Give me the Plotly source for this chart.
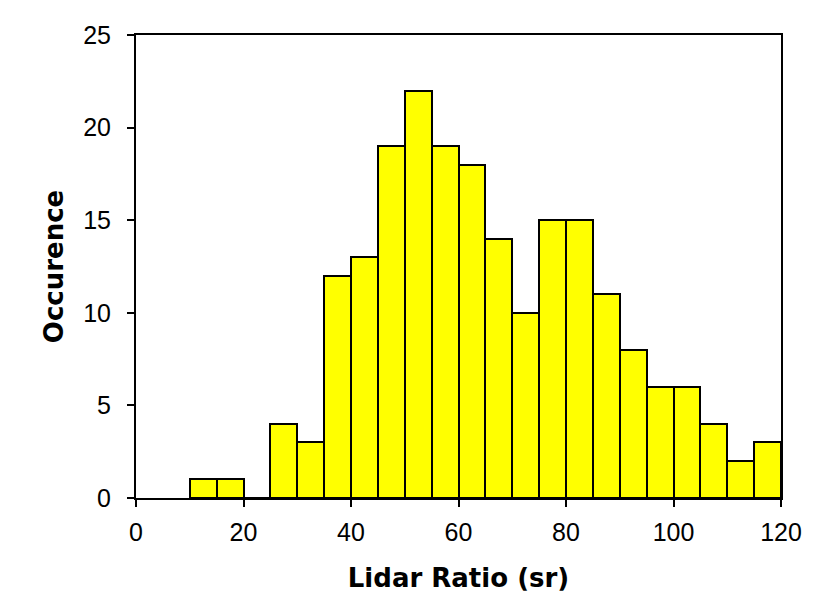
import plotly.graph_objects as go

bin_left = [10, 15, 20, 25, 30, 35, 40, 45, 50, 55, 60, 65, 70, 75, 80, 85, 90, 95, 100, 105, 110, 115]
counts = [1, 1, 0, 4, 3, 12, 13, 19, 22, 19, 18, 14, 10, 15, 15, 11, 8, 6, 6, 4, 2, 3]
bin_width = 5
x_ticks = [0, 20, 40, 60, 80, 100, 120]
y_ticks = [0, 5, 10, 15, 20, 25]

centers = [b + bin_width / 2 for b in bin_left]

fig = go.Figure(go.Bar(
    x=centers, y=counts, width=[bin_width] * len(counts),
    marker=dict(color="#FFFF00", line=dict(color="black", width=2)),
))

font = "Liberation Sans, Arial, sans-serif"
tfont = "DejaVu Sans, sans-serif"
fig.update_layout(
    width=824, height=602,
    margin=dict(l=136, r=43, t=35, b=104),
    plot_bgcolor="white", paper_bgcolor="white",
    showlegend=False,
    font=dict(family=font, size=25, color="black"),
    bargap=0,
)
fig.update_xaxes(
    range=[0, 120], tickvals=x_ticks, showgrid=False, zeroline=False,
    showline=True, mirror=True, linecolor="black", linewidth=2,
    ticks="outside", ticklen=7, tickwidth=2, tickcolor="black",
    ticklabelstandoff=4,
    title=dict(text="<b>Lidar Ratio (sr)</b>", font=dict(size=26, family=tfont), standoff=24),
)
fig.update_yaxes(
    range=[0, 25], tickvals=y_ticks, showgrid=False, zeroline=False,
    showline=True, mirror=True, linecolor="black", linewidth=2,
    ticks="outside", ticklen=7, tickwidth=2, tickcolor="black",
    ticklabelstandoff=11,
    title=dict(text="<b>Occurence</b>", font=dict(size=26, family=tfont), standoff=12),
)

fig.write_html("out.html")
